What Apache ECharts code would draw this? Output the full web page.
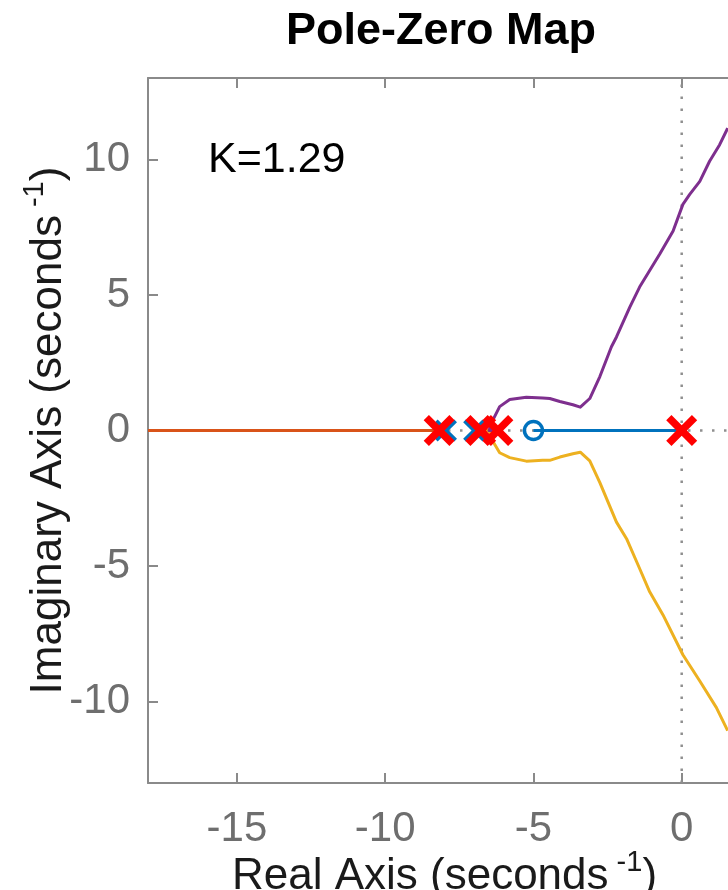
<!DOCTYPE html>
<html>
<head>
<meta charset="utf-8">
<script src="https://cdn.jsdelivr.net/npm/echarts@6/dist/echarts.min.js"></script>
<style>
  html, body { margin: 0; padding: 0; background: #ffffff; }
  #chart { width: 728px; height: 890px; }
</style>
</head>
<body>
<div id="chart"></div>
<script>
// Axis extents (real and imaginary parts, in 1/s)
const realRange = [-18, 2];
const imagRange = [-13, 13];

const chartTitle = 'Pole-Zero Map';
const gainLabel = 'K=1.29';

// Root-locus branch running from the pole near -8.2 out to -infinity
const leftBranchRe = [-18, -8.18];
const leftBranchIm = [0, 0];

// Branch from the pole at the origin to the zero at -5
const zeroBranchRe = [-5, 0];
const zeroBranchIm = [0, 0];

// Upper complex branch (breaks away from the real axis near -6.5)
const upperBranchRe = [-6.2, -6.5, -6.37, -6.14, -5.8, -5.24, -4.69, -4.45, -4.11, -3.67, -3.42,
  -3.1, -2.76, -2.37, -2.2, -1.75, -1.42, -1.08, -0.74, -0.29, 0.04, 0.27, 0.61, 0.94, 1.28, 1.55];
const upperBranchIm = [0, 0, 0.38, 0.88, 1.14, 1.23, 1.2, 1.18, 1.07, 0.95, 0.86,
  1.18, 1.99, 3.09, 3.45, 4.55, 5.29, 5.9, 6.51, 7.36, 8.34, 8.71, 9.19, 9.93, 10.54, 11.15];

// Lower complex branch
const lowerBranchRe = [-6.81, -6.5, -6.37, -6.14, -5.8, -5.24, -4.69, -4.45, -4.11, -3.67, -3.42,
  -3.1, -2.76, -2.2, -1.86, -1.42, -1.08, -0.63, 0.04, 0.61, 1.17, 1.55];
const lowerBranchIm = [0, 0, -0.4, -0.82, -1.0, -1.13, -1.1, -1.1, -0.98, -0.86, -0.8,
  -1.12, -1.92, -3.38, -3.99, -5.09, -5.95, -6.8, -8.27, -9.24, -10.22, -11.07];

// Pole markers drawn by the locus (blue) and the highlighted poles (red)
const locusPoleRe = [-7.95, -7.0];
const locusPoleIm = [0, 0];
const markedPoleRe = [-8.18, -6.78, -6.2, 0];
const markedPoleIm = [0, 0, 0, 0];

// Open-loop zero
const zeroRe = [-5];
const zeroIm = [0];

const FONT = '"Liberation Sans", Arial, Helvetica, sans-serif';
const BLUE = '#0072BD', ORANGE = '#D95319', YELLOW = '#EDB120', PURPLE = '#7E2F8E';
const AXIS_GRAY = '#8a8a8a', TICK_TEXT = '#6e6e6e', LABEL_TEXT = '#1a1a1a';

function pairs(xs, ys) { return xs.map((x, i) => [x, ys[i]]); }

// Filled "x" outlines in a 100x100 box; a controls the stroke thickness
function crossPath(a) {
  const p = [[0, a], [a, 0], [50, 50 - a], [100 - a, 0], [100, a], [50 + a, 50],
             [100, 100 - a], [100 - a, 100], [50, 50 + a], [a, 100], [0, 100 - a], [50 - a, 50]];
  return 'path://M' + p.map(q => q.join(',')).join('L') + 'Z';
}

const chart = echarts.init(document.getElementById('chart'), null, { renderer: 'canvas' });

const axisName = (txt) => '{a|' + txt + ' (seconds}{b| -1}{a|)}';
const nameRich = {
  a: { fontFamily: FONT, fontSize: 44, color: LABEL_TEXT, lineHeight: 58 },
  b: { fontFamily: FONT, fontSize: 29, color: LABEL_TEXT, lineHeight: 26, verticalAlign: 'top' }
};

const lineSeries = (data, color, z) => ({
  type: 'line', data, showSymbol: false, symbol: 'none', silent: true, z,
  lineStyle: { color, width: 3, join: 'round' }, animation: false
});

const dottedSeries = (data) => ({
  type: 'line', data, showSymbol: false, symbol: 'none', silent: true, z: 1,
  lineStyle: { color: '#8f8f8f', width: 2.5, type: [2.5, 9.5] }, animation: false
});

chart.setOption({
  animation: false,
  backgroundColor: '#ffffff',
  grid: { left: 148, top: 78, width: 593, height: 705, outerBoundsMode: 'none', containLabel: false },
  xAxis: [{
    type: 'value', min: realRange[0], max: realRange[1], position: 'bottom',
    axisLine: { show: true, onZero: false, lineStyle: { color: AXIS_GRAY, width: 2 } },
    axisTick: { show: true, inside: true, length: 10, lineStyle: { color: AXIS_GRAY, width: 2 } },
    axisLabel: { show: true, margin: 26, showMinLabel: false, showMaxLabel: false,
      fontFamily: FONT, fontSize: 42, lineHeight: 40, color: TICK_TEXT },
    splitLine: { show: false },
    name: axisName('Real Axis'), nameLocation: 'middle', nameGap: 65, nameMoveOverlap: false,
    nameTextStyle: { rich: nameRich }
  }, {
    type: 'value', min: realRange[0], max: realRange[1], position: 'top',
    axisLine: { show: true, onZero: false, lineStyle: { color: AXIS_GRAY, width: 2 } },
    axisTick: { show: true, inside: true, length: 10, lineStyle: { color: AXIS_GRAY, width: 2 } },
    axisLabel: { show: false }, splitLine: { show: false }
  }],
  yAxis: [{
    type: 'value', min: imagRange[0], max: imagRange[1], position: 'left',
    axisLine: { show: true, onZero: false, lineStyle: { color: AXIS_GRAY, width: 2 } },
    axisTick: { show: true, inside: true, length: 10, lineStyle: { color: AXIS_GRAY, width: 2 } },
    axisLabel: { show: true, margin: 18, showMinLabel: false, showMaxLabel: false,
      fontFamily: FONT, fontSize: 42, color: TICK_TEXT },
    splitLine: { show: false },
    name: axisName('Imaginary Axis'), nameLocation: 'middle', nameRotate: 90, nameGap: 70,
    nameMoveOverlap: false, nameTextStyle: { rich: nameRich }
  }],
  graphic: [
    { type: 'text', x: 441, y: 32, z: 10,
      style: { text: chartTitle, font: 'bold 45px ' + FONT, fill: '#000000',
        align: 'center', verticalAlign: 'middle', textAlign: 'center', textVerticalAlign: 'middle' } },
    { type: 'text', x: 208, y: 160, z: 10,
      style: { text: gainLabel, font: '43px ' + FONT, fill: '#000000',
        align: 'left', verticalAlign: 'middle', textAlign: 'left', textVerticalAlign: 'middle' } }
  ],
  series: [
    dottedSeries([[0, imagRange[0]], [0, imagRange[1]]]),
    dottedSeries([[realRange[0], 0], [realRange[1], 0]]),
    lineSeries(pairs(leftBranchRe, leftBranchIm), ORANGE, 3),
    lineSeries(pairs(zeroBranchRe, zeroBranchIm), BLUE, 3),
    lineSeries(pairs(lowerBranchRe, lowerBranchIm), YELLOW, 3),
    lineSeries(pairs(upperBranchRe, upperBranchIm), PURPLE, 3),
    {
      type: 'scatter', data: pairs(locusPoleRe, locusPoleIm), z: 4, silent: true,
      symbol: crossPath(12), symbolSize: 22, itemStyle: { color: BLUE, opacity: 1 }
    },
    {
      type: 'scatter', data: pairs(zeroRe, zeroIm), z: 4, silent: true,
      symbol: 'circle', symbolSize: 18,
      itemStyle: { color: 'rgba(0,0,0,0)', borderColor: BLUE, borderWidth: 3.5, opacity: 1 }
    },
    {
      type: 'scatter', data: pairs(markedPoleRe, markedPoleIm), z: 5, silent: true,
      symbol: crossPath(17), symbolSize: 31, itemStyle: { color: '#ff0000', opacity: 1 }
    }
  ]
});
</script>
</body>
</html>
